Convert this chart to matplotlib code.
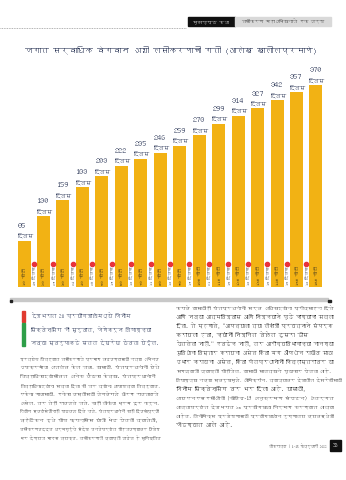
import numpy as np
import matplotlib
matplotlib.use("Agg")
import matplotlib.pyplot as plt
from matplotlib import font_manager
from matplotlib.ft2font import FT2Font
from matplotlib.patches import Rectangle

# data
doses = ["10 कोटी", "20 कोटी", "30 कोटी", "40 कोटी", "50 कोटी", "60 कोटी",
         "70 कोटी", "80 कोटी", "90 कोटी", "100 कोटी", "110 कोटी", "120 कोटी",
         "130 कोटी", "140 कोटी", "150 कोटी", "160 कोटी"]
days = [85, 130, 159, 183, 203, 222, 235, 246, 259, 278, 299, 314, 327, 342, 357, 370]
gap_days = np.diff(days)

title = "जगात सर्वाधिक वेगवान अशी लसीकरणाची गती (आलेख खालीलप्रमाणे)"
section = "मुखपृष्ठ कथा"
series_name = "लसीकरण महाअभियानाचे एक वर्ष"
headline = ["देशभरात 28 प्रयोगशाळांमध्ये जिनोम",
            "सिक्वेन्सिंग ची सुरुवात, जेणेकरून विषाणूच्या",
            "नव्या स्वरुपाकडे सतत देखरेख ठेवता येईल."]
left_col = ["प्रत्येक जिल्ह्यात लसीकरणाचे प्रमाण वाढवण्यासाठी नव्या अभिनव",
            "उपक्रमांचा अवलंब केला जावा, यासाठी, पंतप्रधानांनी येथे",
            "जिल्हाधिकाऱ्यांसोबत अनेक बैठका केल्या. पंतप्रधानांनी",
            "जिल्हाधिकाऱ्यांना सल्ला दिला की जर त्यांना आपापल्या जिल्ह्यात,",
            "एकेका गावासाठी, एकेका वस्तीसाठी वेगवेगळे धोरण राबवायचे",
            "असेल, तर तेही राबवले जावे. काही लोकांचा भ्रम दूर करून,",
            "नियोग स्वयंसेवींनाही पाठबळ दिले जावे. पंतप्रधानांनी काही दिवसांपूर्वी",
            "व्हॅटिकन इथे पोप फ्रान्सिस यांची भेट घेतली त्यावेळी,",
            "लसीकरणाबद्दल धर्मगुरूंचे संदेश जनतेपर्यंत पोहचवण्यावर विशेष",
            "भर देण्याचा मानस व्यक्त. लसीकरणाची व्याप्ती वाढेल हे सुनिश्चित"]
right_col = ["करावे यासाठीही पंतप्रधानांनी सर्व अधिकाऱ्यांना प्रोत्साहन दिले",
             "आणि नव्या आत्मविश्वास आणि निश्चयाने पुढे जाण्याचा सल्ला",
             "दिला. ते म्हणाले, \"आपल्याला त्या लोकांशी प्रयत्नाने संपर्क",
             "करायला हवा, ज्यांनी निश्चित वेळेत दुसरा डोस",
             "घेतलेला नाही.\" एवढेच नाही, तर आरोग्यविभागाच्या चाचण्या",
             "सुविधांचा विस्तार करायचा असेल किंवा मग औषधांचा राखीव साठा",
             "उभार करायचा असेल, किंवा पंतप्रधानांनी जिल्हास्तरावर या",
             "सगळ्याची व्याप्ती पोहोचेल, यासाठी सातत्याने पुढाकार घेतला आहे.",
             "विषाणूच्या नव्या स्वरूपामुळे, ओमिक्रॉन, त्याच्यावर देशातील देखरेखीसाठी",
             "जिनोम सिक्वेन्सिंग वर भर दिला आहे. यासाठी,",
             "आयएनएसएसीओजी (कोविड-19 अनुक्रमण संघटन) अंतर्गत",
             "आत्तापर्यंत देशभरात 28 प्रयोगशाळा निर्माण करण्यात आल्या",
             "आहेत. जिनोमिक्स प्रशेषणासाठी प्रयोगशाळांना रुग्णालय व्यवस्थेशी",
             "जोडण्यात आले आहे."]
footer = "लोकराज्य | 1-15 फेब्रुवारी 2022"
page_no = "33"


def find_devanagari():
    for f in font_manager.fontManager.ttflist:
        try:
            if 0x0915 in FT2Font(f.fname).get_charmap():
                return f.name
        except Exception:
            pass
    return None


deva = find_devanagari()
fam = [deva, "DejaVu Sans"] if deva else ["DejaVu Sans"]
plt.rcParams["font.family"] = fam

W, H = 346, 480
navy = "#1f2b4d"
bar_color = "#F2B214"
body = "#1e1e1e"

fig = plt.figure(figsize=(W / 100, H / 100), dpi=100)
fig.patch.set_facecolor("white")
renderer = fig.canvas.get_renderer()


def px(x, y):
    return x / W, 1 - y / H


def needed_size(s, width, **kw):
    t = fig.text(0, 0, s, fontsize=10, **kw)
    w = t.get_window_extent(renderer).width
    t.remove()
    return 10 * width / w


def fit(x, y, s, width, cap=None, **kw):
    size = needed_size(s, width, **kw)
    if cap is not None:
        size = min(size, cap)
    return fig.text(*px(x, y), s, fontsize=size, **kw)


def column(x, y0, step, lines, width, color=body):
    sizes = [needed_size(s, width) for s in lines]
    med = float(np.median(sizes))
    for k, (s, sz) in enumerate(zip(lines, sizes)):
        sz = min(max(sz, 0.85 * med), 1.1 * med)
        fig.text(*px(x, y0 + step * k), s, fontsize=sz, color=color, va="center")


# header strip
fig.add_artist(Rectangle(px(188, 26), 47 / W, 9 / H, color="#111111", transform=fig.transFigure))
fig.add_artist(Rectangle(px(235, 26), 96 / W, 9 / H, color="#d9d9d9", transform=fig.transFigure))
fit(211, 21.5, section, 36, color="white", ha="center", va="center", fontweight="bold")
fit(283, 21.5, series_name, 84, color="#222222", ha="center", va="center")
fig.add_artist(plt.Line2D([0, 186 / W], [1 - 28 / H] * 2, color="#999999", lw=0.6,
                          ls=(0, (1, 1)), transform=fig.transFigure))

fit(171, 50, title, 290, color=navy, fontweight="bold", ha="center", va="center")

# chart
ax = fig.add_axes([14.3 / W, 1 - 287 / H, 311.4 / W, 0.455])
x = np.arange(len(days))
bw = 0.67
ax.bar(x, days, width=bw, color=bar_color, zorder=2)
ax.set_xlim(-0.5, len(days) - 0.5)
ax.set_ylim(0, 400)
ax.axis("off")

for i, (d, lab) in enumerate(zip(days, doses)):
    ax.text(i, 3, lab, rotation=90, ha="center", va="bottom", fontsize=3.4, color="#222222", zorder=3)
    ax.annotate(str(d), xy=(i - bw / 2, d), xytext=(0, 8.5), textcoords="offset points",
                ha="left", va="bottom", fontsize=6, fontweight="bold", color=navy)
    ax.annotate("दिवस", xy=(i - bw / 2, d), xytext=(0, 1.5), textcoords="offset points",
                ha="left", va="bottom", fontsize=3.9, fontweight="bold", color=navy)

for i, g in enumerate(gap_days):
    ax.plot(i + 0.5, 42, "o", ms=3.0, color="#e8323c", zorder=3)
    ax.text(i + 0.5, 3, f"{g} दिवस", rotation=90, ha="center", va="bottom", fontsize=3.0, color="#333333")

# separator
fig.add_artist(Rectangle(px(10, 301), 318 / W, 3 / H, color="#c8c8c8", transform=fig.transFigure))
fig.add_artist(Rectangle(px(10, 301.5), 2 / W, 2 / H, color="#222222", transform=fig.transFigure))
fig.add_artist(Rectangle(px(328, 301.5), 3 / W, 2 / H, color="#222222", transform=fig.transFigure))

# headline box
fig.add_artist(Rectangle(px(22, 322), 3 / W, 11 / H, color="#e03a2f", transform=fig.transFigure))
fig.add_artist(Rectangle(px(22, 346), 3 / W, 23 / H, color="#2e9e48", transform=fig.transFigure))
hsize = min(needed_size(s, 128, fontweight="bold") for s in headline)
for k, line in enumerate(headline):
    fig.text(*px(31, 316 + 13.5 * k), line, fontsize=hsize, fontweight="bold", color=navy, va="center")

column(20, 359, 8.8, left_col, 140)
column(176, 308, 9.0, right_col, 158)

fit(327, 446, footer, 58, color="#222222", ha="right", va="center")
fig.add_artist(Rectangle(px(330, 451), 11 / W, 11 / H, color="#111111", transform=fig.transFigure))
fig.text(*px(335.5, 445.5), page_no, fontsize=4, color="white", ha="center", va="center", fontweight="bold")

fig.savefig("out.png", dpi=100)
